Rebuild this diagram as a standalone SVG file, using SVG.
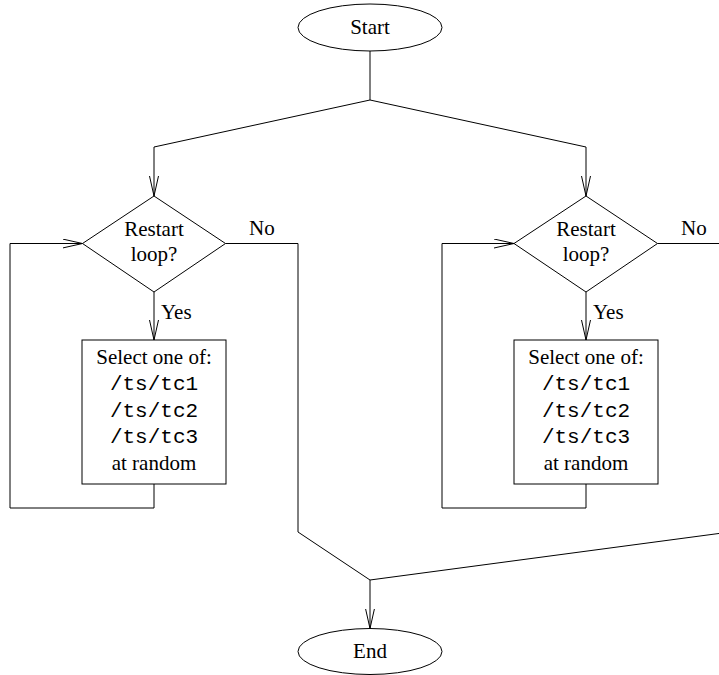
<svg xmlns="http://www.w3.org/2000/svg" width="719" height="675" viewBox="0 0 719 675">
<style>
.shape{fill:#fff;stroke:#000;stroke-width:1}
.conn{fill:none;stroke:#000;stroke-width:1}
.t{font-family:"Liberation Serif","Times New Roman",serif;font-size:21px;fill:#000}
.m{font-family:"Liberation Mono","Courier New",monospace;font-size:21px;fill:#000}
.c{text-anchor:middle}
</style>
<defs>
<marker id="arr" viewBox="0 0 20 10" refX="20" refY="5" markerWidth="20" markerHeight="10" markerUnits="userSpaceOnUse" orient="auto">
<path d="M0,0.5 L20,5 L0,9.5" fill="none" stroke="#000" stroke-width="1"/>
</marker>
</defs>
<rect width="719" height="675" fill="#fff"/>
<g id="connectors" class="conn">
<polyline points="370,51 370,100 154,147 154,196" marker-end="url(#arr)"/>
<polyline points="370,100 586,147 586,196" marker-end="url(#arr)"/>
<line x1="154" y1="292" x2="154" y2="340" marker-end="url(#arr)"/>
<polyline points="154,484 154,508 10,508 10,243.5 82.5,243.5" marker-end="url(#arr)"/>
<polyline points="225.5,243.5 298,243.5 298,532 370,580"/>
<line x1="586" y1="292" x2="586" y2="340" marker-end="url(#arr)"/>
<polyline points="586,484 586,508 442,508 442,243.5 514,243.5" marker-end="url(#arr)"/>
<polyline points="657.5,243.5 730,243.5 730,532 370,580"/>
<line x1="370" y1="580" x2="370" y2="628.5" marker-end="url(#arr)"/>
</g>
<g id="labels">
<text class="t" x="249" y="235">No</text>
<text class="t" x="681" y="235">No</text>
<text class="t" x="161" y="319">Yes</text>
<text class="t" x="593" y="319">Yes</text>
</g>
<g id="start">
<ellipse class="shape" cx="370" cy="27.5" rx="72" ry="23.5"/>
<text class="t c" x="370" y="34">Start</text>
</g>
<g id="decision1">
<polygon class="shape" points="154,196 225.5,243.5 154,292 82.5,243.5"/>
<text class="t c" x="154" y="236">Restart</text>
<text class="t c" x="154" y="261">loop?</text>
</g>
<g id="select1">
<rect class="shape" x="82" y="340" width="144" height="144"/>
<text class="t c" x="154" y="363.5">Select one of:</text>
<text class="m c" x="154" y="390">/ts/tc1</text>
<text class="m c" x="154" y="416.5">/ts/tc2</text>
<text class="m c" x="154" y="443">/ts/tc3</text>
<text class="t c" x="154" y="469.5">at random</text>
</g>
<g id="decision2">
<polygon class="shape" points="586,196 657.5,243.5 586,292 514,243.5"/>
<text class="t c" x="586" y="236">Restart</text>
<text class="t c" x="586" y="261">loop?</text>
</g>
<g id="select2">
<rect class="shape" x="514" y="340" width="144" height="144"/>
<text class="t c" x="586" y="363.5">Select one of:</text>
<text class="m c" x="586" y="390">/ts/tc1</text>
<text class="m c" x="586" y="416.5">/ts/tc2</text>
<text class="m c" x="586" y="443">/ts/tc3</text>
<text class="t c" x="586" y="469.5">at random</text>
</g>
<g id="end">
<ellipse class="shape" cx="370" cy="651.5" rx="72" ry="23"/>
<text class="t c" x="370" y="658">End</text>
</g>
</svg>
